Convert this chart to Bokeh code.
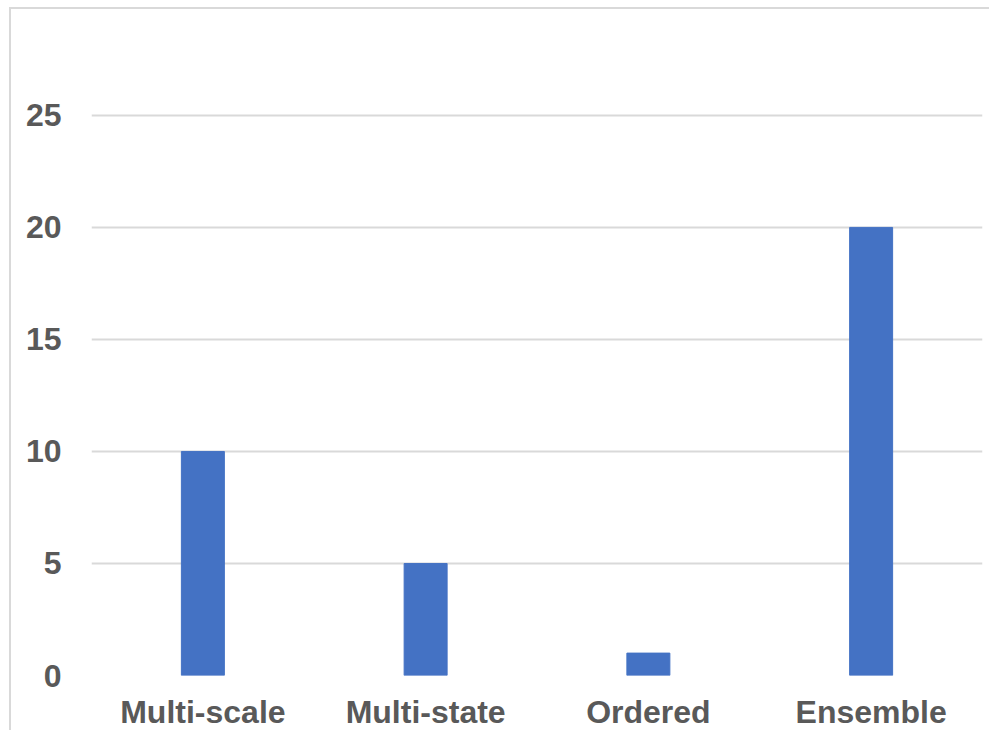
from bokeh.plotting import figure
from bokeh.models import Range1d, FixedTicker, Spacer
from bokeh.layouts import column, row
from bokeh.embed import file_html
from bokeh.resources import INLINE

categories = ["Multi-scale", "Multi-state", "Ordered", "Ensemble"]
values = [10, 5, 1, 20]
y_ticks = [0, 5, 10, 15, 20, 25]

W, H = 980, 723
p = figure(x_range=categories, y_range=Range1d(0, 28.03), width=W, height=H,
           output_backend="svg", toolbar_location=None,
           min_border_left=80, min_border_right=9, min_border_top=38, min_border_bottom=52)
p.styles = {"border-left": "2px solid #d9d9d9", "border-top": "2px solid #d9d9d9"}

p.vbar(x=categories, top=values, width=0.193, color="#4472C4")

p.outline_line_color = None
p.xgrid.grid_line_color = None
p.ygrid.grid_line_color = "#d9d9d9"
p.ygrid.grid_line_width = 2
p.yaxis.ticker = FixedTicker(ticks=y_ticks)
for ax in (p.xaxis[0], p.yaxis[0]):
    ax.axis_line_color = None
    ax.major_tick_line_color = None
    ax.minor_tick_line_color = None
    ax.major_label_text_font = "Liberation Sans"
    ax.major_label_text_font_style = "bold"
    ax.major_label_text_font_size = "32px"
    ax.major_label_text_color = "#595959"
p.xaxis.major_label_standoff = 12
p.yaxis.major_label_standoff = 24
p.x_range.range_padding = 0

layout = column(Spacer(height=7, width=W + 9), row(Spacer(width=9, height=H), p))
open("out.html", "w").write(file_html(layout, INLINE))
